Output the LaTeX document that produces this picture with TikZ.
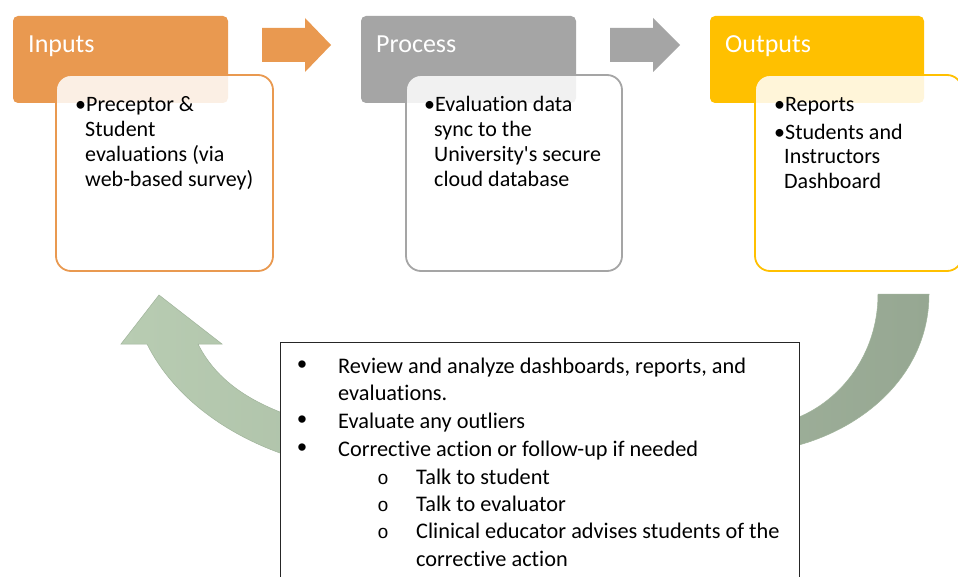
\documentclass[tikz,border=0pt]{standalone}
\usepackage{fontspec}
\setmainfont[Ligatures={TeX,NoCommon}]{Carlito}
\newfontfamily\dotbulletfont{Liberation Sans}
\newfontfamily\ringbulletfont{Liberation Mono}
\definecolor{inorange}{RGB}{233,153,80}
\definecolor{procgray}{RGB}{165,165,165}
\definecolor{outgold}{RGB}{255,192,0}
\definecolor{sageL}{RGB}{184,204,178}
\definecolor{sageR}{RGB}{150,167,146}
\definecolor{sageE}{RGB}{160,180,155}
\begin{document}
\begin{tikzpicture}[x=1pt,y=-1pt,
  hdrbox/.style={rectangle, rounded corners=5pt, inner sep=0pt, draw=none, minimum height=87pt},
  bodybox/.style={rectangle, rounded corners=15pt, inner sep=0pt, fill=white, fill opacity=0.85, draw opacity=1, line width=1.8pt, minimum height=196pt},
  hdrtext/.style={anchor=base west, inner sep=0pt, text=white, font=\fontsize{26}{31}\selectfont},
  bodytext/.style={anchor=base west, inner sep=0pt, font=\fontsize{22}{25}\selectfont},
  listtext/.style={anchor=base west, inner sep=0pt, font=\fontsize{22.3}{27}\selectfont},
  dotbullet/.style={anchor=base, inner sep=0pt, font=\dotbulletfont\fontsize{27}{27}\selectfont},
  ringbullet/.style={anchor=base, inner sep=0pt, font=\ringbulletfont\fontsize{19}{27}\selectfont},
  listbox/.style={rectangle, inner sep=0pt, fill=white, draw=black!85, line width=0.9pt}
]
\useasboundingbox[fill=white] (0,0) rectangle (958,577);

% curved feedback arrow (drawn first, partly hidden by the list box)
\path[left color=sageL, right color=sageR, draw=sageE, line width=0.5pt]
  (159,295) -- (222,344) -- (198,344)
  .. controls (215,378) and (245,398) .. (280,412)
  -- (799,417)
  .. controls (840,400) and (878,355) .. (878,294)
  -- (929,294)
  .. controls (929,370) and (870,425) .. (799,445)
  -- (280,453)
  .. controls (230,435) and (175,400) .. (147,344)
  -- (121,344) -- cycle;

% block arrows
\fill[inorange] (262,28) -- (305,28) -- (305,18) -- (331,45) -- (305,72) -- (305,62) -- (262,62) -- cycle;
\fill[procgray] (610,28) -- (653,28) -- (653,18) -- (680,45) -- (653,72) -- (653,62) -- (610,62) -- cycle;

% Inputs
\node[hdrbox, fill=inorange, minimum width=215pt] (inhdr) at (120.5,59.5) {};
\node[bodybox, draw=inorange, minimum width=217pt] (inbody) at (164.5,173) {};
\node[hdrtext] (inlbl) at (28,53) {Inputs};
\node[bodytext] (in1) at (75,112) {•Preceptor \&};
\node[bodytext] (in2) at (85,137) {Student};
\node[bodytext] (in3) at (85,162) {evaluations (via};
\node[bodytext] (in4) at (85,187) {web-based survey)};

% Process
\node[hdrbox, fill=procgray, minimum width=215pt] (prhdr) at (468.5,59.5) {};
\node[bodybox, draw=procgray, minimum width=216pt] (prbody) at (514,173) {};
\node[hdrtext] (prlbl) at (376,53) {Process};
\node[bodytext] (pr1) at (424,112) {•Evaluation data};
\node[bodytext] (pr2) at (434,137) {sync to the};
\node[bodytext] (pr3) at (434,162) {University\textquotesingle s secure};
\node[bodytext] (pr4) at (434,187) {cloud database};

% Outputs
\node[hdrbox, fill=outgold, minimum width=214pt] (outhdr) at (817,59.5) {};
\node[bodybox, draw=outgold, minimum width=207pt] (outbody) at (858.5,173) {};
\node[hdrtext] (outlbl) at (725,53) {Outputs};
\node[bodytext] (out1) at (774,112) {•Reports};
\node[bodytext] (out2) at (774,140) {•Students and};
\node[bodytext] (out3) at (784,164) {Instructors};
\node[bodytext] (out4) at (784,189) {Dashboard};

% list box
\node[listbox, minimum width=519pt, minimum height=260pt] (lbox) at (539.5,472) {};
\node[dotbullet] (b1) at (302,373) {•};
\node[listtext] (l1) at (338,373) {Review and analyze dashboards, reports, and};
\node[listtext] (l2) at (338,400) {evaluations.};
\node[dotbullet] (b2) at (302,428) {•};
\node[listtext] (l3) at (338,428) {Evaluate any outliers};
\node[dotbullet] (b3) at (302,456) {•};
\node[listtext] (l4) at (338,456) {Corrective action or follow-up if needed};
\node[ringbullet] (s1) at (383,484) {o};
\node[listtext] (l5) at (416,484) {Talk to student};
\node[ringbullet] (s2) at (383,511) {o};
\node[listtext] (l6) at (416,511) {Talk to evaluator};
\node[ringbullet] (s3) at (383,538) {o};
\node[listtext] (l7) at (416,538) {Clinical educator advises students of the};
\node[listtext] (l8) at (416,566) {corrective action};
\end{tikzpicture}
\end{document}
